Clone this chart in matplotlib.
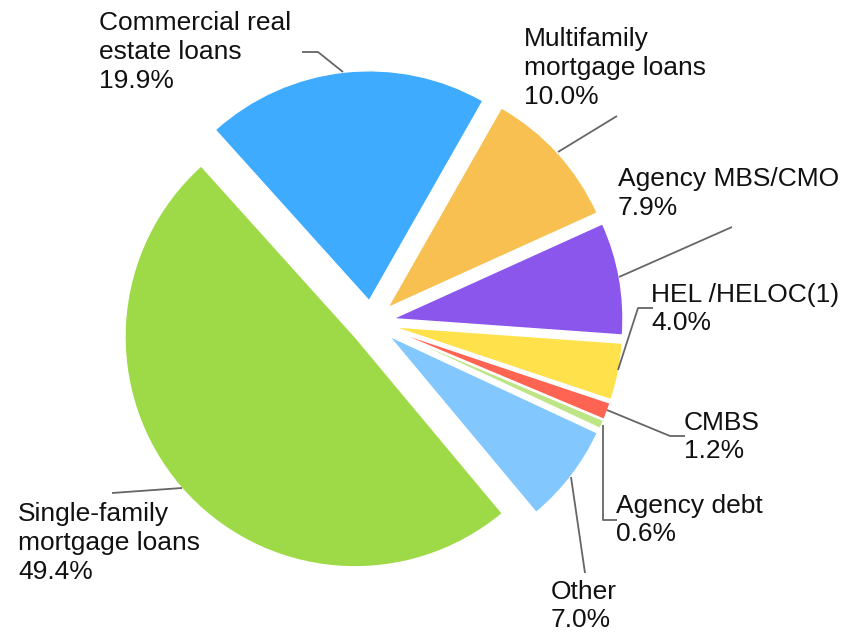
import matplotlib
matplotlib.use("Agg")
import matplotlib.pyplot as plt

labels = ["Commercial real\nestate loans", "Multifamily\nmortgage loans", "Agency MBS/CMO",
          "HEL /HELOC(1)", "CMBS", "Agency debt", "Other", "Single-family\nmortgage loans"]
values = [19.9, 10.0, 7.9, 4.0, 1.2, 0.6, 7.0, 49.4]
colors = ["#3FABFE", "#F8C051", "#8A56EC", "#FFE24B", "#FF6352", "#BEE585", "#82C7FE", "#9ED948"]

W, H = 856, 634
CX, CY, R = 371.5, 322.5, 230.0

fig = plt.figure(figsize=(W / 100, H / 100), dpi=100)
ax = fig.add_axes([0, 0, 1, 1])
ax.axis("off")

ax.pie(values, colors=colors, startangle=132, counterclock=False,
       explode=[0.095] * len(values), radius=1.0, center=(0, 0),
       wedgeprops=dict(edgecolor="white", linewidth=1.0), frame=False)
ax.set_xlim(-CX / R, (W - CX) / R)
ax.set_ylim(-(H - CY) / R, CY / R)
ax.set_aspect("auto")


def P(x, y):
    return ((x - CX) / R, (CY - y) / R)


# label text anchors (left x, vertical middle y in pixels) and leader polylines
text_pos = [(99, 52), (524, 68), (618, 193.5), (651, 309), (684, 437), (616, 520), (551, 606), (18, 543)]
leaders = [
    [(343, 72), (318, 52), (302, 52)],
    [(558, 152), (617, 116)],
    [(619, 277), (732, 227)],
    [(618, 370), (638, 308), (653, 308)],
    [(607, 410), (670, 436), (685, 436)],
    [(603, 425), (603, 520), (617, 520)],
    [(571, 477), (585, 573)],
    [(182, 488), (112, 493)],
]

for lab, v, (tx, ty), pts in zip(labels, values, text_pos, leaders):
    xs, ys = zip(*[P(*p) for p in pts])
    ax.plot(xs, ys, color="#666666", lw=1.3, solid_capstyle="butt")
    ax.text(*P(tx, ty), f"{lab}\n{v:.1f}%", ha="left", va="center",
            fontsize=19, family="Liberation Sans", color="#111111", linespacing=1.24)

fig.savefig("out.png", dpi=100)
